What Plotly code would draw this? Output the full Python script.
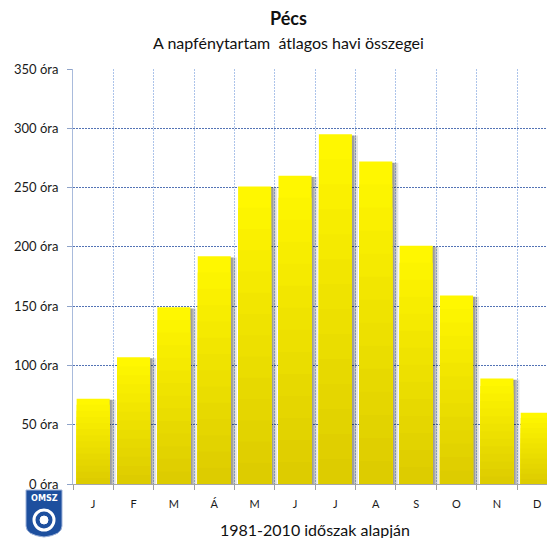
import plotly.graph_objects as go

months = ["J", "F", "M", "Á", "M ", "J ", "J  ", "A", "S", "O", "N", "D"]
month_labels = ["J", "F", "M", "Á", "M", "J", "J", "A", "S", "O", "N", "D"]
sunshine = [72, 107, 149, 192, 251, 260, 295, 272, 201, 159, 89, 60]
y_ticks = [0, 50, 100, 150, 200, 250, 300, 350]

FONT = "Lato"
BAR_W = 0.82
N_LAYERS = 14
top_rgb = (255, 247, 0)
bot_rgb = (221, 204, 0)

fig = go.Figure()

# shadows
for off, col in [(0.15, "rgba(0,0,0,0.10)"), (0.10, "rgba(0,0,0,0.16)"), (0.05, "rgba(0,0,0,0.18)")]:
    fig.add_trace(go.Bar(
        x=months, y=[v - 1 for v in sunshine], width=BAR_W, offset=-BAR_W / 2 + off,
        marker=dict(color=col, line=dict(width=0)), hoverinfo="skip", showlegend=False))

# gradient bars
for k in range(N_LAYERS):
    t = k / (N_LAYERS - 1)
    r = round(top_rgb[0] + (bot_rgb[0] - top_rgb[0]) * t)
    g = round(top_rgb[1] + (bot_rgb[1] - top_rgb[1]) * t)
    b = round(top_rgb[2] + (bot_rgb[2] - top_rgb[2]) * t)
    fig.add_trace(go.Bar(
        x=months, y=[v * (1 - k / N_LAYERS) for v in sunshine], width=BAR_W,
        offset=-BAR_W / 2,
        marker=dict(color=f"rgb({r},{g},{b})", line=dict(width=0)),
        hoverinfo="skip" if k else None, showlegend=False))

# page has an 8px body margin: figure starts at window (8, 8)
OFF = 8
W, H = 555 - OFF, 538 - OFF
PLOT_L, PLOT_T, PLOT_B = 73, 69, 484  # window coordinates
L, T, B = PLOT_L - OFF, PLOT_T - OFF, H - (PLOT_B - OFF)
PW = W - L
PH = PLOT_B - PLOT_T


def px(xw):
    return (xw - PLOT_L) / PW


def py(yw):
    return (PLOT_B - yw) / PH


fig.update_layout(
    width=W, height=H,
    margin=dict(l=L, r=0, t=T, b=B),
    barmode="overlay",
    paper_bgcolor="white", plot_bgcolor="white",
    font=dict(family=FONT, color="#222222"),
    xaxis=dict(
        type="category", range=[-0.5, 11.44],
        tickmode="array", tickvals=months, ticktext=month_labels,
        tickson="boundaries", ticks="outside", ticklen=5, tickcolor="#a0a0a0",
        showgrid=True, gridcolor="#adc4ea", griddash="2px,1px", gridwidth=1,
        showline=True, linecolor="#a8a8a8", linewidth=1,
        tickfont=dict(size=11, color="#1a1a1a", family=FONT),
        ticklabelstandoff=10,
    ),
    yaxis=dict(
        range=[0, 350], tickmode="array", tickvals=y_ticks,
        ticktext=[f"{v} óra" for v in y_ticks],
        ticks="outside", ticklen=5, tickcolor="#8fa3c8",
        showgrid=True, gridcolor="#5373b5", griddash="2px,1px", gridwidth=1,
        showline=True, linecolor="#a9bbdc", linewidth=1,
        tickfont=dict(size=13, color="#1a1a1a", family=FONT),
        ticklabelstandoff=6,
        zeroline=False,
    ),
    annotations=[
        dict(text="<b>Pécs</b>", xref="paper", yref="paper",
             x=px(288), y=py(18), showarrow=False,
             font=dict(size=18, color="#111111", family=FONT), xanchor="center", yanchor="middle"),
        dict(text="A napfénytartam  átlagos havi összegei", xref="paper", yref="paper",
             x=px(288), y=py(42), showarrow=False,
             font=dict(size=16, color="#111111", family=FONT), xanchor="center", yanchor="middle"),
        dict(text="1981-2010 időszak alapján", xref="paper", yref="paper",
             x=px(315), y=py(529), showarrow=False,
             font=dict(size=16, color="#111111", family=FONT), xanchor="center", yanchor="middle"),
        dict(text="<b>OMSZ</b>", xref="paper", yref="paper",
             x=px(44), y=py(498), showarrow=False,
             font=dict(size=9, color="white", family="DejaVu Sans Condensed"), xanchor="center", yanchor="middle"),
    ],
)

# OMSZ logo shield (approximation)
shield = (f"M {px(26)},{py(490)} L {px(62)},{py(490)} L {px(62)},{py(526)} "
          f"Q {px(62)},{py(535)} {px(44)},{py(537)} Q {px(26)},{py(535)} {px(26)},{py(526)} Z")
fig.add_shape(type="path", path=shield, xref="paper", yref="paper",
              fillcolor="#1d4f9e", line=dict(color="#9fb3d9", width=1), layer="above")
fig.add_shape(type="circle", xref="paper", yref="paper",
              x0=px(34), x1=px(54), y0=py(530), y1=py(510),
              fillcolor="rgba(0,0,0,0)", line=dict(color="white", width=3), layer="above")
fig.add_shape(type="circle", xref="paper", yref="paper",
              x0=px(40), x1=px(48), y0=py(524), y1=py(516),
              fillcolor="white", line=dict(color="white", width=1), layer="above")

fig.write_html("out.html")
